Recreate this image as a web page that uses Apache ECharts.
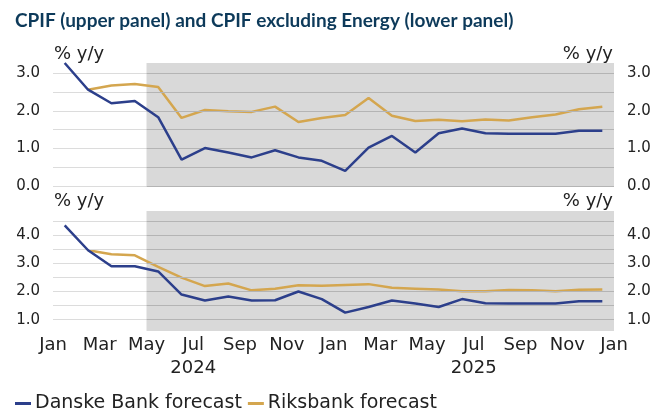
<!DOCTYPE html>
<html><head><meta charset="utf-8">
<script src="https://cdn.jsdelivr.net/npm/echarts@6/dist/echarts.min.js"></script>
<style>html,body{margin:0;padding:0;background:#fff}#c{width:656px;height:409px}</style>
</head><body><div id="c"></div>
<script>
// Months Jan 2024 .. Dec 2025 (24 months)
var monthLabels = ['Jan','Mar','May','Jul','Sep','Nov','Jan','Mar','May','Jul','Sep','Nov','Jan'];
var yearLabels = ['2024','2025'];
var cpifDanske = [3.27,2.56,2.2,2.26,1.83,0.7,1.01,0.89,0.76,0.95,0.76,0.67,
                  0.4,1.02,1.33,0.89,1.4,1.53,1.4,1.39,1.39,1.39,1.47,1.47];
var cpifRiksbank = [null,2.56,2.67,2.71,2.63,1.81,2.02,1.99,1.97,2.11,1.7,1.81,
                    1.89,2.34,1.87,1.73,1.76,1.72,1.77,1.74,1.83,1.9,2.04,2.11];
var exDanske = [4.34,3.46,2.89,2.89,2.71,1.89,1.68,1.82,1.68,1.69,2.0,1.73,
                1.25,1.45,1.68,1.57,1.45,1.73,1.58,1.57,1.57,1.57,1.65,1.65];
var exRiksbank = [null,3.46,3.32,3.28,2.87,2.49,2.19,2.28,2.04,2.1,2.22,2.2,
                  2.23,2.26,2.13,2.1,2.07,2.01,2.01,2.05,2.04,2.01,2.06,2.07];
var topTicks = [0,1,2,3];
var bottomTicks = [1,2,3,4];
var topGrid = [0,0.5,1,1.5,2,2.5,3];
var bottomGrid = [1,1.5,2,2.5,3,3.5,4,4.5];
var unitLabel = '% y/y';
var forecastStart = 4; // May 2024

function pts(arr){ var o=[]; for(var i=0;i<arr.length;i++){ if(arr[i]!==null) o.push([i+0.5,arr[i]]); } return o; }
function gridLines(vals){
  var o=[];
  vals.forEach(function(v){
    o.push([{coord:[0,v],lineStyle:{color:'#dcdcdc'}},{coord:[forecastStart,v]}]);
    o.push([{coord:[forecastStart,v],lineStyle:{color:'#b4b4b4'}},{coord:[24,v]}]);
  });
  return o;
}
var FONT = 'DejaVu Sans';
var BLUE = '#2c3f8b', GOLD = '#d4a64f';
function yAx(grid, pos, min, max, ticks){
  return {type:'value', gridIndex:grid, position:pos, min:min, max:max,
    axisLine:{show:false}, axisTick:{show:false}, splitLine:{show:false},
    axisLabel:{customValues:ticks, margin:13, fontFamily:FONT,fontSize:15,color:'#222',
      formatter:function(v){return v.toFixed(1);}}};
}
var unitStyle = {fontFamily:FONT,fontSize:18,fontWeight:'normal',color:'#222'};
var chart = echarts.init(document.getElementById('c'));
chart.setOption({
  animation:false,
  title:[
    {text:'CPIF (upper panel) and CPIF excluding Energy (lower panel)', left:10, top:6,
      textStyle:{fontFamily:'Lato',fontWeight:'bold',fontSize:19,color:'#0d3a5a'}},
    {text:unitLabel,left:49,top:40,textStyle:unitStyle},
    {text:unitLabel,right:38,top:40,textStyle:unitStyle},
    {text:unitLabel,left:49,top:187,textStyle:unitStyle},
    {text:unitLabel,right:38,top:187,textStyle:unitStyle}
  ],
  legend:{data:['Danske Bank forecast','Riksbank forecast'], left:10, top:389, icon:'rect',
    itemWidth:16,itemHeight:3,itemGap:6,
    textStyle:{fontFamily:FONT,fontSize:19,color:'#222',padding:[0,0,0,-1]}},
  grid:[{left:53,right:42,top:63,height:123},{left:53,right:42,top:211,height:120}],
  xAxis:[
    {type:'value',gridIndex:0,min:0,max:24,show:false},
    {type:'value',gridIndex:1,min:0,max:24,interval:2,
      axisLine:{show:false},axisTick:{show:false},splitLine:{show:false},
      axisLabel:{margin:5,fontFamily:FONT,fontSize:18,color:'#222',showMinLabel:true,showMaxLabel:true,
        formatter:function(v){return monthLabels[Math.round(v/2)]||'';}}},
    {type:'value',gridIndex:1,min:0,max:24,interval:6,position:'bottom',offset:23,
      axisLine:{show:false},axisTick:{show:false},splitLine:{show:false},
      axisLabel:{margin:5,fontFamily:FONT,fontSize:18,color:'#222',
        formatter:function(v){ if(v===6) return yearLabels[0]; if(v===18) return yearLabels[1]; return ''; }}}
  ],
  yAxis:[
    yAx(0,'left',0,3.27,topTicks),
    yAx(0,'right',0,3.27,topTicks),
    yAx(1,'left',0.6,4.85,bottomTicks),
    yAx(1,'right',0.6,4.85,bottomTicks)
  ],
  series:[
    {type:'line',xAxisIndex:0,yAxisIndex:0,data:pts(cpifDanske),z:1,silent:true,symbol:'none',
      lineStyle:{opacity:0},
      markArea:{silent:true,itemStyle:{color:'#d9d9d9'},data:[[{xAxis:forecastStart},{xAxis:24}]]}},
    {type:'line',xAxisIndex:1,yAxisIndex:2,data:pts(exDanske),z:1,silent:true,symbol:'none',
      lineStyle:{opacity:0},
      markArea:{silent:true,itemStyle:{color:'#d9d9d9'},data:[[{xAxis:forecastStart},{xAxis:24}]]}},
    {type:'line',xAxisIndex:0,yAxisIndex:0,data:pts(cpifDanske),z:2,silent:true,symbol:'none',
      lineStyle:{opacity:0},
      markLine:{silent:true,symbol:'none',label:{show:false},lineStyle:{type:'solid',width:1},data:gridLines(topGrid)}},
    {type:'line',xAxisIndex:1,yAxisIndex:2,data:pts(exDanske),z:2,silent:true,symbol:'none',
      lineStyle:{opacity:0},
      markLine:{silent:true,symbol:'none',label:{show:false},lineStyle:{type:'solid',width:1},data:gridLines(bottomGrid)}},
    {name:'Danske Bank forecast',type:'line',xAxisIndex:0,yAxisIndex:0,data:pts(cpifDanske),z:5,
      symbol:'none',lineStyle:{color:BLUE,width:2.5},itemStyle:{color:BLUE}},
    {name:'Riksbank forecast',type:'line',xAxisIndex:0,yAxisIndex:0,data:pts(cpifRiksbank),z:4,
      symbol:'none',lineStyle:{color:GOLD,width:2.5},itemStyle:{color:GOLD}},
    {name:'Danske Bank forecast',type:'line',xAxisIndex:1,yAxisIndex:2,data:pts(exDanske),z:5,
      symbol:'none',lineStyle:{color:BLUE,width:2.5},itemStyle:{color:BLUE}},
    {name:'Riksbank forecast',type:'line',xAxisIndex:1,yAxisIndex:2,data:pts(exRiksbank),z:4,
      symbol:'none',lineStyle:{color:GOLD,width:2.5},itemStyle:{color:GOLD}}
  ]
});
</script></body></html>
